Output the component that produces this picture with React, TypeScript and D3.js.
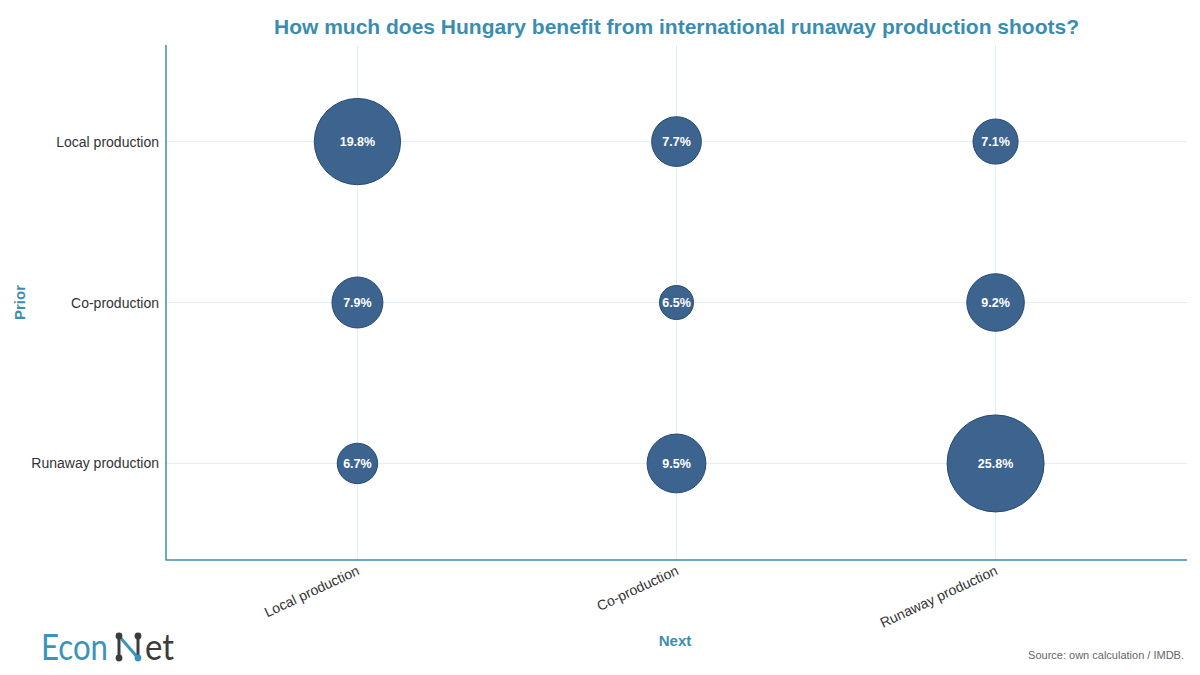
import React from "react";
import * as d3 from "d3";

// rows: prior, cols: next
const priorCats = ["Local production", "Co-production", "Runaway production"];
const nextCats = ["Local production", "Co-production", "Runaway production"];
const valuesLocalPrior = [19.8, 7.7, 7.1];
const valuesCoPrior = [7.9, 6.5, 9.2];
const valuesRunawayPrior = [6.7, 9.5, 25.8];

const W = 1200, H = 675;
const left = 166, right = 1187, top = 45, bottom = 560;
const teal = "#3b8db0";
const FONT = "'Liberation Sans', Arial, Helvetica, sans-serif";

export default function App() {
  const rows = [valuesLocalPrior, valuesCoPrior, valuesRunawayPrior];
  const data = rows.flatMap((r, i) => r.map((v, j) => ({ prior: priorCats[i], next: nextCats[j], v })));
  const x = d3.scalePoint<string>().domain(nextCats).range([left, right]).padding(0.6);
  const y = d3.scalePoint<string>().domain(priorCats).range([top, bottom]).padding(0.6);
  const all = data.map(d => d.v);
  const vmin = d3.min(all)!, vmax = d3.max(all)!;
  const r = d3.scaleSqrt().domain([0, vmax - vmin]).range([17, 48.5]);

  return (
    <svg width={W} height={H} style={{ position: "absolute", left: 0, top: 0, background: "#fff" }} fontFamily={FONT}>
      <rect width={W} height={H} fill="#fff" />
      <text x={(left + right) / 2} y={34} textAnchor="middle" fontSize={21} fontWeight="bold" fill={teal}>
        How much does Hungary benefit from international runaway production shoots?
      </text>
      {/* grid */}
      {nextCats.map(c => (
        <line key={"gx" + c} x1={x(c)} x2={x(c)} y1={top} y2={bottom} stroke="#e3eef0" strokeWidth={1} />
      ))}
      {priorCats.map(c => (
        <line key={"gy" + c} x1={left} x2={right} y1={y(c)} y2={y(c)} stroke="#e3eef0" strokeWidth={1} />
      ))}
      {/* axes */}
      <line x1={left} x2={left} y1={top} y2={bottom + 0.5} stroke={teal} strokeWidth={1.5} />
      <line x1={left} x2={right} y1={bottom} y2={bottom} stroke={teal} strokeWidth={1.5} />
      {priorCats.map(c => (
        <text key={"yl" + c} x={159} y={y(c)! + 5} textAnchor="end" fontSize={14} fill="#333">{c}</text>
      ))}
      {nextCats.map(c => (
        <text key={"xl" + c} transform={`translate(${x(c)! + 3},${574}) rotate(-25)`} textAnchor="end" fontSize={14} fill="#333">{c}</text>
      ))}
      <text transform={`translate(25,${(top + bottom) / 2}) rotate(-90)`} textAnchor="middle" fontSize={15} fontWeight="bold" fill={teal}>Prior</text>
      <text x={675} y={646} textAnchor="middle" fontSize={15} fontWeight="bold" fill={teal}>Next</text>
      {/* bubbles */}
      {data.map((d, i) => (
        <g key={i}>
          <circle cx={x(d.next)} cy={y(d.prior)} r={r(d.v - vmin)} fill="#2e5887" fillOpacity={0.93} stroke="#234a74" strokeWidth={1} />
          <text x={x(d.next)} y={y(d.prior)! + 4.5} textAnchor="middle" fontSize={12.5} fontWeight="bold" fill="#fff">{d.v.toFixed(1)}%</text>
        </g>
      ))}
      <text x={1184} y={659} textAnchor="end" fontSize={11} fill="#666">Source: own calculation / IMDB.</text>
      {/* logo */}
      <g fontFamily="Lato, 'Open Sans', sans-serif" fontSize={36} fontWeight={400}>
        <text x={41} y={660} fill="#3a93ba" textLength={67} lengthAdjust="spacingAndGlyphs">Econ</text>
        <text x={145} y={660} fill="#3c3c3c" textLength={29} lengthAdjust="spacingAndGlyphs">et</text>
        <line x1={119} y1={636} x2={119} y2={658} stroke="#3c3c3c" strokeWidth={3} />
        <line x1={119} y1={636} x2={138} y2={658} stroke="#3a93ba" strokeWidth={3} />
        <line x1={138} y1={636} x2={138} y2={658} stroke="#3c3c3c" strokeWidth={3} />
        <circle cx={119} cy={636} r={3.4} fill="#3c3c3c" />
        <circle cx={119} cy={658} r={3.4} fill="#3c3c3c" />
        <circle cx={138} cy={636} r={3.4} fill="#3c3c3c" />
        <circle cx={138} cy={658} r={3.4} fill="#3a93ba" />
      </g>
    </svg>
  );
}
